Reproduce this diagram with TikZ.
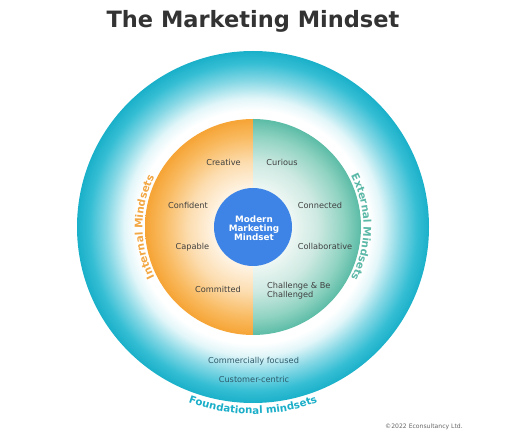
\documentclass[tikz,border=0pt]{standalone}
\usepackage{fontspec}
\setmainfont{DejaVu Sans}
\usetikzlibrary{decorations.text}
\definecolor{titlegray}{HTML}{333333}
\definecolor{itemgray}{HTML}{404040}
\definecolor{slate}{HTML}{2F5A6A}
\definecolor{ringA}{HTML}{E2F6F9}
\definecolor{ringB}{HTML}{86D8E5}
\definecolor{ringC}{HTML}{35BED4}
\definecolor{ringD}{HTML}{1AB0C9}
\definecolor{orA}{HTML}{FFF8EE}
\definecolor{orB}{HTML}{FCDDB0}
\definecolor{orC}{HTML}{F9BA60}
\definecolor{orD}{HTML}{F6A435}
\definecolor{tlA}{HTML}{F3F9F7}
\definecolor{tlB}{HTML}{CDE9E1}
\definecolor{tlC}{HTML}{90D3C2}
\definecolor{tlD}{HTML}{5BBCA6}
\definecolor{coreblue}{HTML}{3D84E6}
\definecolor{intorange}{HTML}{F2A845}
\definecolor{extteal}{HTML}{5CB9A8}
\definecolor{foundcyan}{HTML}{1AAEC8}
\definecolor{copygray}{HTML}{666666}
\pgfdeclareradialshading{ringshade}{\pgfpoint{0bp}{0bp}}{color(0bp)=(white); color(16.6bp)=(white); color(18.3bp)=(ringA); color(20.8bp)=(ringB); color(23.3bp)=(ringC); color(25bp)=(ringD); color(50bp)=(ringD)}
\pgfdeclareradialshading{orangeshade}{\pgfpoint{0bp}{0bp}}{color(0bp)=(white); color(8bp)=(orA); color(15bp)=(orB); color(21bp)=(orC); color(25bp)=(orD); color(50bp)=(orD)}
\pgfdeclareradialshading{tealshade}{\pgfpoint{0bp}{0bp}}{color(0bp)=(white); color(8bp)=(tlA); color(15bp)=(tlB); color(21bp)=(tlC); color(25bp)=(tlD); color(50bp)=(tlD)}
\begin{document}
\begin{tikzpicture}[x=1pt,y=1pt,
  item/.style={font=\fontsize{8.2}{9.8}\selectfont, text=itemgray, inner sep=0pt, anchor=base},
  itemleft/.style={item, anchor=base west},
  foot/.style={font=\fontsize{8.2}{9.8}\selectfont, text=slate, inner sep=0pt, anchor=base},
  arclabel/.style={decorate, decoration={text along path, text align=center, text color=#1}}]
\useasboundingbox (0,0) rectangle (530,442);
\coordinate (C) at (253,215);
% rings
\shade[shading=ringshade] (C) circle[radius=176];
\begin{scope}
  \clip (C) ++(-120,-120) rectangle ++(120,240);
  \shade[shading=orangeshade] (C) circle[radius=108];
\end{scope}
\begin{scope}
  \clip (C) ++(0,-120) rectangle ++(120,240);
  \shade[shading=tealshade] (C) circle[radius=108];
\end{scope}
\fill[coreblue] (C) circle[radius=39];
% title
\node[font=\fontsize{22.5}{27}\selectfont\bfseries, text=titlegray, anchor=base, inner sep=0pt] (title) at (253,414) {The Marketing Mindset};
% core
\node[font=\fontsize{8.8}{9}\selectfont\bfseries, text=white, align=center, inner sep=0pt] (core) at (254,214) {Modern\\Marketing\\Mindset};
% items
\node[item] (creative) at (223.5,276) {Creative};
\node[item] (curious) at (282,276) {Curious};
\node[item] (confident) at (188,233) {Confident};
\node[item] (connected) at (320,233) {Connected};
\node[item] (capable) at (192.5,192) {Capable};
\node[item] (collab) at (325,192) {Collaborative};
\node[item] (committed) at (218,149) {Committed};
\node[itemleft] (chalA) at (267,153.3) {Challenge \& Be};
\node[itemleft] (chalB) at (267,144.8) {Challenged};
% foundational
\node[foot] (commercial) at (253.5,79) {Commercially focused};
\node[foot] (customer) at (254,60) {Customer-centric};
% curved labels
\path[arclabel=intorange, decoration={text={|\fontsize{10.5}{12}\selectfont\bfseries|Internal Mindsets}}]
  (C) ++(215:110.5) arc[start angle=215, end angle=145, radius=110.5];
\path[arclabel=extteal, decoration={text={|\fontsize{10.5}{12}\selectfont\bfseries|External Mindsets}}]
  (C) ++(35:110.5) arc[start angle=35, end angle=-35, radius=110.5];
\path[arclabel=foundcyan, decoration={text={|\fontsize{10.2}{12}\selectfont\bfseries|Foundational mindsets}}]
  (C) ++(240:187) arc[start angle=240, end angle=300, radius=187];
% copyright
\node[font=\fontsize{6.1}{7}\selectfont, text=copygray, anchor=base, inner sep=0pt] (copy) at (424,14) {©2022 Econsultancy Ltd.};
\end{tikzpicture}
\end{document}
